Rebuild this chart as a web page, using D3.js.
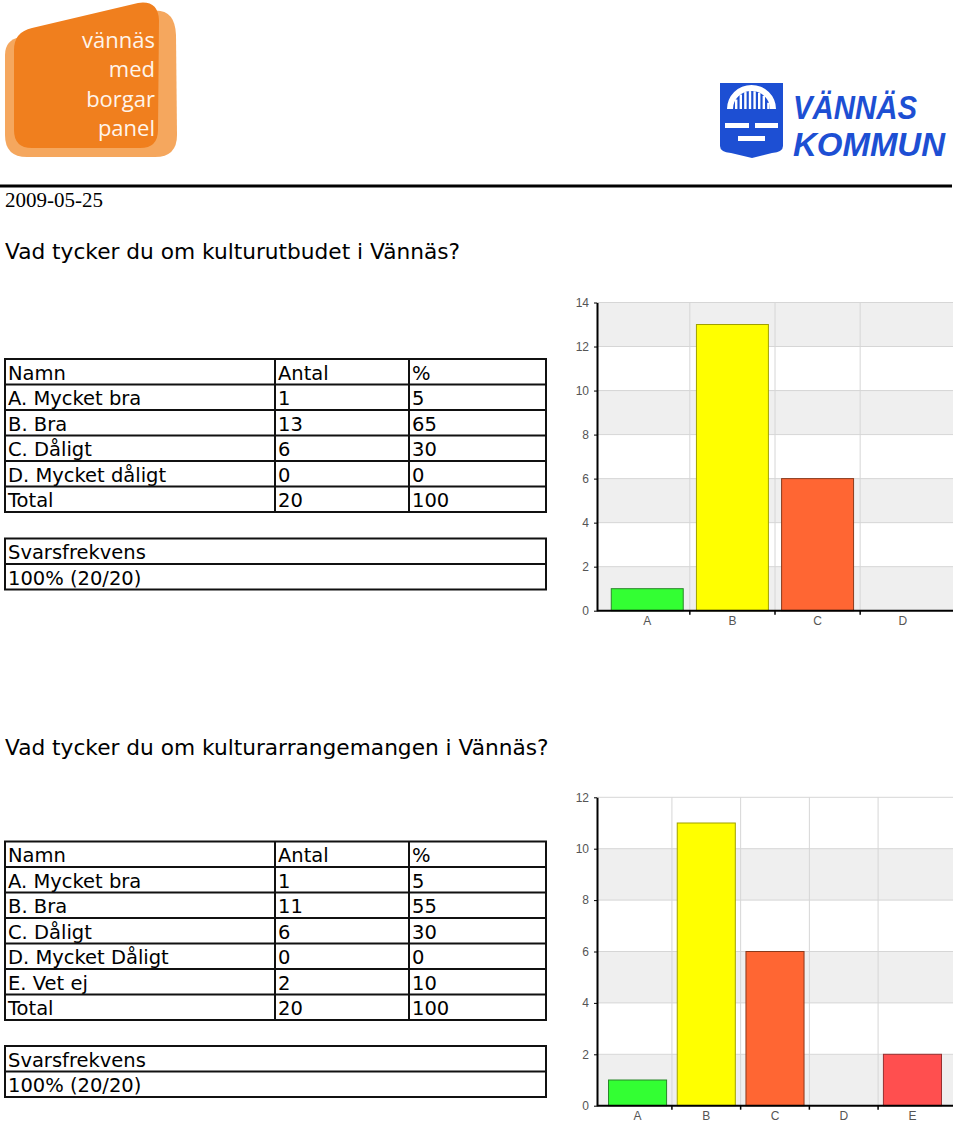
<!DOCTYPE html>
<html>
<head>
<meta charset="utf-8">
<script src="https://cdn.jsdelivr.net/npm/d3@7"></script>
<style>
  body { margin: 0; background: #fff; }
  svg { display: block; }
</style>
</head>
<body>
<svg id="page" width="960" height="1122"></svg>
<script>
// ---- data ----
const reportDate = "2009-05-25";

const q1Title = "Vad tycker du om kulturutbudet i Vännäs?";
const q1Names = ["A. Mycket bra", "B. Bra", "C. Dåligt", "D. Mycket dåligt"];
const q1Counts = [1, 13, 6, 0];
const q1Pct = [5, 65, 30, 0];
const q1Cats = ["A", "B", "C", "D"];
const q1Ticks = [0, 2, 4, 6, 8, 10, 12, 14];

const q2Title = "Vad tycker du om kulturarrangemangen i Vännäs?";
const q2Names = ["A. Mycket bra", "B. Bra", "C. Dåligt", "D. Mycket Dåligt", "E. Vet ej"];
const q2Counts = [1, 11, 6, 0, 2];
const q2Pct = [5, 55, 30, 0, 10];
const q2Cats = ["A", "B", "C", "D", "E"];
const q2Ticks = [0, 2, 4, 6, 8, 10, 12];

const totalCount = 20;
const totalPct = 100;
const responseRate = "100% (20/20)";

const barColors = ["#33ff33", "#ffff00", "#ff6633", "#ff9933", "#ff4f4f"];
const barStrokes = ["#2a862a", "#a0a000", "#8a3a1c", "#8a5a1c", "#973030"];

const svg = d3.select("#page");
const tableFont = "'DejaVu Sans', Verdana, sans-serif";

// ---- header: logos, rule, date ----
const logo = svg.append("g");
logo.append("path")
  .attr("d", "M5,55 Q5,40 20,37 L150,11 Q175,7 176,35 L177,135 Q177,157 155,157 L27,157 Q5,157 5,135 Z")
  .attr("fill", "#f5a75e");
logo.append("path")
  .attr("d", "M14,50 Q14,32 32,28 L138,3 Q158,0 159,20 L158,130 Q158,148 140,148 L32,148 Q14,148 14,130 Z")
  .attr("fill", "#f07f1e");
logo.selectAll("text")
  .data(["vännäs", "med", "borgar", "panel"])
  .join("text")
  .attr("x", 155)
  .attr("y", (d, i) => 48 + i * 29.3)
  .attr("text-anchor", "end")
  .attr("font-family", "'Open Sans', sans-serif")
  .attr("font-size", 22)
  .attr("fill", "#fff4ea")
  .text(d => d);

// Vännäs kommun shield + wordmark
const kommun = svg.append("g");
const blue = "#1d4fd3";
kommun.append("path")
  .attr("d", "M720,83 L783,83 L783,146 Q783,152 772,153 L752,158 L731,153 Q720,152 720,146 Z")
  .attr("fill", blue);
kommun.append("path")
  .attr("d", "M727,109 A24.5,24 0 0 1 776,109 L770,109 A18.5,18 0 0 0 733,109 Z")
  .attr("fill", "#fff");
kommun.selectAll("rect.pillar")
  .data(d3.range(735, 770, 4.6))
  .join("rect")
  .attr("class", "pillar")
  .attr("x", d => d)
  .attr("y", d => 109 - Math.sqrt(Math.max(0, 18 * 18 - Math.pow(d + 1.2 - 751.5, 2))))
  .attr("width", 2.4)
  .attr("height", d => Math.sqrt(Math.max(0, 18 * 18 - Math.pow(d + 1.2 - 751.5, 2))))
  .attr("fill", "#fff");
kommun.append("rect").attr("x", 725).attr("y", 123).attr("width", 24).attr("height", 5).attr("fill", "#fff");
kommun.append("rect").attr("x", 755).attr("y", 123).attr("width", 23).attr("height", 5).attr("fill", "#fff");
kommun.append("rect").attr("x", 738).attr("y", 136).attr("width", 27).attr("height", 5).attr("fill", "#fff");
kommun.selectAll("text")
  .data([["VÄNNÄS", 118.5, 124], ["KOMMUN", 155.5, 152]])
  .join("text")
  .attr("x", 793)
  .attr("y", d => d[1])
  .attr("textLength", d => d[2])
  .attr("lengthAdjust", "spacingAndGlyphs")
  .attr("font-family", "'Liberation Sans', Arial, sans-serif")
  .attr("font-weight", "bold")
  .attr("font-style", "italic")
  .attr("font-size", 33)
  .attr("fill", blue)
  .text(d => d[0]);

svg.append("line")
  .attr("x1", 0).attr("x2", 952)
  .attr("y1", 186).attr("y2", 186)
  .attr("stroke", "#000").attr("stroke-width", 3);

svg.append("text")
  .attr("x", 5).attr("y", 207)
  .attr("font-family", "'Liberation Serif', 'Times New Roman', serif")
  .attr("font-size", 21)
  .text(reportDate);

// ---- tables ----
function drawTable(top, rows, colX, rowH) {
  const g = svg.append("g");
  const left = colX[0], right = colX[colX.length - 1];
  const bottom = top + rows.length * rowH;
  rows.forEach((r, i) => {
    r.forEach((cell, j) => {
      g.append("text")
        .attr("x", colX[j] + 3)
        .attr("y", top + i * rowH + 20.5)
        .attr("font-family", tableFont)
        .attr("font-size", 19.5)
        .text(cell);
    });
  });
  g.append("rect")
    .attr("x", left).attr("y", top)
    .attr("width", right - left).attr("height", bottom - top)
    .attr("fill", "none").attr("stroke", "#111").attr("stroke-width", 2);
  d3.range(1, rows.length).forEach(i => {
    g.append("line")
      .attr("x1", left).attr("x2", right)
      .attr("y1", top + i * rowH).attr("y2", top + i * rowH)
      .attr("stroke", "#111").attr("stroke-width", 2);
  });
  colX.slice(1, -1).forEach(cx => {
    g.append("line")
      .attr("x1", cx).attr("x2", cx)
      .attr("y1", top).attr("y2", bottom)
      .attr("stroke", "#111").attr("stroke-width", 2);
  });
}

function tableRows(names, counts, pct) {
  const rows = [["Namn", "Antal", "%"]];
  names.forEach((n, i) => rows.push([n, String(counts[i]), String(pct[i])]));
  rows.push(["Total", String(totalCount), String(totalPct)]);
  return rows;
}

// ---- bar chart ----
function drawChart(cats, values, ticks, x0, x1, yTop, yBottom) {
  const g = svg.append("g");
  const x = d3.scaleBand().domain(cats).range([x0, x1]).paddingInner(0).paddingOuter(0.09);
  const y = d3.scaleLinear().domain([0, d3.max(ticks)]).range([yBottom, yTop]);

  // alternating stripes, grey from the bottom
  g.selectAll("rect.stripe")
    .data(d3.pairs(ticks))
    .join("rect")
    .attr("x", x0).attr("width", x1 - x0)
    .attr("y", d => y(d[1]))
    .attr("height", d => y(d[0]) - y(d[1]))
    .attr("fill", (d, i) => i % 2 === 0 ? "#efefef" : "#fff");

  g.selectAll("line.hgrid")
    .data(ticks.slice(1))
    .join("line")
    .attr("x1", x0).attr("x2", x1)
    .attr("y1", d => y(d)).attr("y2", d => y(d))
    .attr("stroke", "#d6d6d6");

  g.selectAll("line.vgrid")
    .data(cats.slice(1))
    .join("line")
    .attr("x1", d => x(d)).attr("x2", d => x(d))
    .attr("y1", yTop).attr("y2", yBottom)
    .attr("stroke", "#d6d6d6");

  const bw = x.bandwidth() * 0.845;
  g.selectAll("rect.bar")
    .data(values)
    .join("rect")
    .attr("x", (d, i) => x(cats[i]) + (x.bandwidth() - bw) / 2)
    .attr("width", bw)
    .attr("y", d => y(d))
    .attr("height", d => yBottom - y(d))
    .attr("fill", (d, i) => barColors[i])
    .attr("stroke", (d, i) => barStrokes[i])
    .attr("stroke-width", 1)
    .attr("display", d => d > 0 ? null : "none");

  const yAxis = g.append("g")
    .attr("transform", `translate(${x0},0)`)
    .call(d3.axisLeft(y).tickValues(ticks).tickSize(3).tickPadding(5).tickSizeOuter(0));
  const xAxis = g.append("g")
    .attr("transform", `translate(0,${yBottom})`)
    .call(d3.axisBottom(x).tickSize(0).tickPadding(6));
  xAxis.select(".domain").attr("d", `M${x0},0H${x1}`);
  [yAxis, xAxis].forEach(a => {
    a.select(".domain").attr("stroke", "#000").attr("stroke-width", 2);
    a.selectAll("line").attr("stroke", "#000");
    a.selectAll("text")
      .attr("font-family", "'Liberation Sans', Arial, sans-serif")
      .attr("font-size", 12)
      .attr("fill", "#555");
  });
  xAxis.selectAll("line.sep")
    .data(cats.slice(1))
    .join("line")
    .attr("class", "sep")
    .attr("x1", d => x(d)).attr("x2", d => x(d))
    .attr("y1", 0).attr("y2", 4)
    .attr("stroke", "#000").attr("stroke-width", 1.5);
}

function drawTitle(text, y) {
  svg.append("text")
    .attr("x", 5).attr("y", y)
    .attr("font-family", tableFont)
    .attr("font-size", 21.7)
    .text(text);
}

const colX = [5, 275, 409, 546];
const rowH = 25.5;

// question 1
drawTitle(q1Title, 259);
drawTable(359, tableRows(q1Names, q1Counts, q1Pct), colX, rowH);
drawTable(538.5, [["Svarsfrekvens"], [responseRate]], [5, 546], rowH);
drawChart(q1Cats, q1Counts, q1Ticks, 597, 953, 302.5, 610.7);

// question 2
drawTitle(q2Title, 755);
drawTable(841.5, tableRows(q2Names, q2Counts, q2Pct), colX, rowH);
drawTable(1046, [["Svarsfrekvens"], [responseRate]], [5, 546], rowH);
drawChart(q2Cats, q2Counts, q2Ticks, 597, 953, 797.3, 1105.7);
</script>
</body>
</html>
